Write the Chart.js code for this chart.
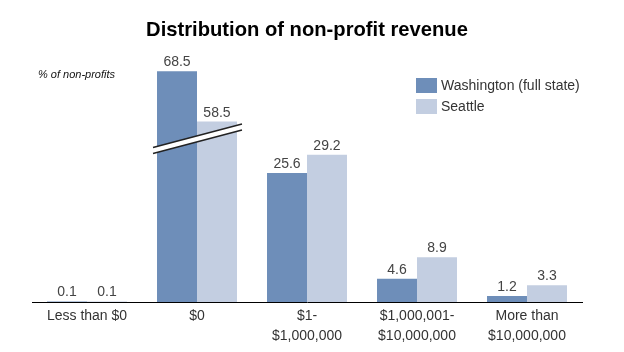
<!DOCTYPE html>
<html>
<head>
<meta charset="utf-8">
<script src="https://cdn.jsdelivr.net/npm/chart.js@4.4.0/dist/chart.umd.min.js"></script>
<style>
body { margin: 0; background: #fff; }
</style>
</head>
<body>
<canvas id="revenueChart" width="624" height="352"></canvas>
<script>
var categories = ['Less than $0', '$0', ['$1-', '$1,000,000'], ['$1,000,001-', '$10,000,000'], ['More than', '$10,000,000']];
var washington = [0.1, 68.5, 25.6, 4.6, 1.2];
var seattle = [0.1, 58.5, 29.2, 8.9, 3.3];
var seriesNames = ['Washington (full state)', 'Seattle'];
var seriesColors = ['#6e8eb9', '#c3cee1'];

// axis break: bars taller than breakFrom + breakGap lose breakGap units of height
var breakFrom = 32.4;
var breakGap = 22.7;

function shown(v) {
    return v > breakFrom + breakGap ? v - breakGap : v;
}

Chart.defaults.font.family = '"Liberation Sans", Arial, sans-serif';

var extras = {
    id: 'extras',
    afterDatasetsDraw: function(chart) {
        var ctx = chart.ctx;
        var area = chart.chartArea;
        var yScale = chart.scales.y;
        var values = [washington, seattle];
        ctx.save();

        // break marks over the truncated bars
        categories.forEach(function(c, i) {
            if (washington[i] <= breakFrom + breakGap && seattle[i] <= breakFrom + breakGap) return;
            var a = chart.getDatasetMeta(0).data[i];
            var b = chart.getDatasetMeta(1).data[i];
            var x0 = a.x - a.width / 2 - 4;
            var x1 = b.x + b.width / 2 + 5;
            var cx = (x0 + x1) / 2;
            var yc = yScale.getPixelForValue(breakFrom);
            var slope = -0.265;
            function yAt(x, off) { return yc + off + (x - cx) * slope; }
            ctx.fillStyle = '#fff';
            ctx.beginPath();
            ctx.moveTo(x0, yAt(x0, -3));
            ctx.lineTo(x1, yAt(x1, -3));
            ctx.lineTo(x1, yAt(x1, 3));
            ctx.lineTo(x0, yAt(x0, 3));
            ctx.closePath();
            ctx.fill();
            ctx.strokeStyle = '#222';
            ctx.lineWidth = 1.5;
            ctx.beginPath();
            ctx.moveTo(x0, yAt(x0, -3));
            ctx.lineTo(x1, yAt(x1, -3));
            ctx.moveTo(x0, yAt(x0, 3));
            ctx.lineTo(x1, yAt(x1, 3));
            ctx.stroke();
        });

        // value labels
        ctx.fillStyle = '#444';
        ctx.font = '14px "Liberation Sans", Arial, sans-serif';
        ctx.textAlign = 'center';
        ctx.textBaseline = 'alphabetic';
        values.forEach(function(series, d) {
            chart.getDatasetMeta(d).data.forEach(function(el, i) {
                ctx.fillText(series[i].toFixed(1), el.x, el.y - 5);
            });
        });

        // title
        ctx.fillStyle = '#000';
        ctx.font = 'bold 20.2px "Liberation Sans", Arial, sans-serif';
        ctx.textBaseline = 'middle';
        ctx.fillText('Distribution of non-profit revenue', (area.left + area.right) / 2, 30);

        // axis caption
        ctx.font = 'italic 11px "Liberation Sans", Arial, sans-serif';
        ctx.textAlign = 'left';
        ctx.fillStyle = '#111';
        ctx.fillText('% of non-profits', area.left + 6, 75);

        // legend
        ctx.font = '14px "Liberation Sans", Arial, sans-serif';
        seriesNames.forEach(function(name, d) {
            var top = 78 + d * 21;
            ctx.fillStyle = seriesColors[d];
            ctx.fillRect(area.right - 166, top, 21, 15);
            ctx.fillStyle = '#333';
            ctx.fillText(name, area.right - 141, top + 8);
        });
        ctx.restore();
    }
};

var ctx = document.getElementById('revenueChart').getContext('2d');
var chart = new Chart(ctx, {
    type: 'bar',
    data: {
        labels: categories,
        datasets: [{
            label: seriesNames[0],
            data: washington.map(shown),
            backgroundColor: seriesColors[0],
            categoryPercentage: 0.727,
            barPercentage: 1.0
        }, {
            label: seriesNames[1],
            data: seattle.map(shown),
            backgroundColor: seriesColors[1],
            categoryPercentage: 0.727,
            barPercentage: 1.0
        }]
    },
    options: {
        responsive: false,
        animation: false,
        layout: {
            padding: { top: 50, left: 32, right: 42, bottom: 0 }
        },
        plugins: {
            legend: { display: false },
            title: { display: false },
            tooltip: { enabled: false }
        },
        scales: {
            x: {
                grid: { display: false, drawTicks: false },
                border: { display: true, color: '#000', width: 1 },
                ticks: {
                    color: '#333',
                    padding: 4,
                    font: { size: 14, lineHeight: 1.45 },
                    maxRotation: 0
                },
                afterFit: function(scale) { scale.height = 50; }
            },
            y: {
                display: false,
                min: 0,
                max: 50
            }
        }
    },
    plugins: [extras]
});
</script>
</body>
</html>
